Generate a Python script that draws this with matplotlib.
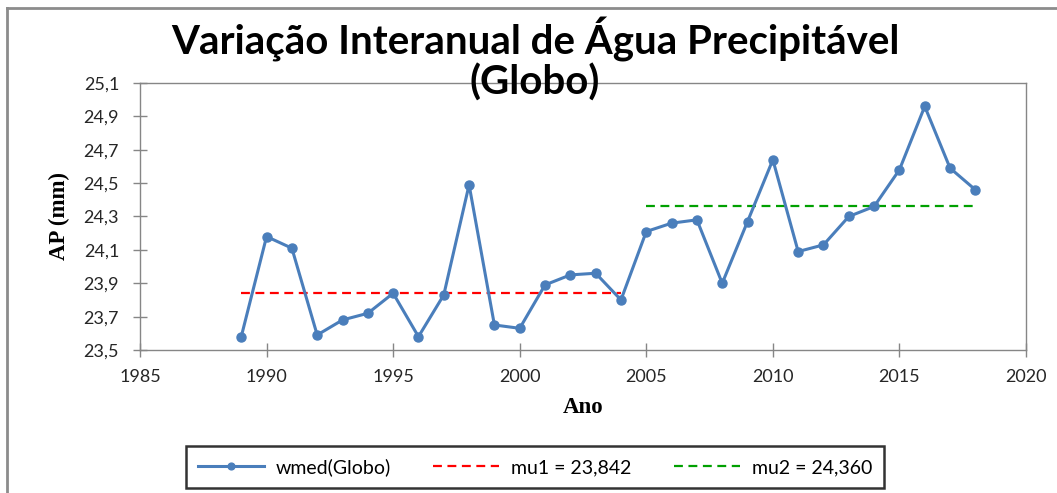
import matplotlib
matplotlib.use("Agg")
import matplotlib.pyplot as plt
from matplotlib.lines import Line2D
from matplotlib.ticker import FuncFormatter

# annual precipitable water, global mean (mm)
years = list(range(1989, 2019))
wmed = [23.58, 24.18, 24.11, 23.59, 23.68, 23.72, 23.84, 23.58, 23.83, 24.49,
        23.65, 23.63, 23.89, 23.95, 23.96, 23.80, 24.21, 24.26, 24.28, 23.90,
        24.27, 24.64, 24.09, 24.13, 24.30, 24.36, 24.58, 24.96, 24.59, 24.46]
mu1_years = [1989, 2004]
mu1 = 23.842
mu2_years = [2005, 2018]
mu2 = 24.360

x_ticks = [1985, 1990, 1995, 2000, 2005, 2010, 2015, 2020]
y_ticks = [23.5, 23.7, 23.9, 24.1, 24.3, 24.5, 24.7, 24.9, 25.1]

title_l1 = "Variação Interanual de Água Precipitável"
title_l2 = "(Globo)"
labels = ["wmed(Globo)", "mu1 = 23,842", "mu2 = 24,360"]

SANS = ["Lato", "DejaVu Sans"]
SERIF = ["Liberation Serif", "DejaVu Serif"]

fig = plt.figure(figsize=(10.57, 4.93), dpi=100)
ax = fig.add_axes([140 / 1057, 143 / 493, 886 / 1057, 267 / 493])

ax.plot(years, wmed, "-o", color="#4a7ebb", lw=2.2, ms=6.5, label=labels[0], zorder=3)
ax.plot(mu1_years, [mu1, mu1], "--", color="#ff0000", lw=1.6, dashes=(4, 2.5),
        label=labels[1], zorder=2)
ax.plot(mu2_years, [mu2, mu2], "--", color="#00a000", lw=1.6, dashes=(4, 2.5),
        label=labels[2], zorder=2)

ax.set_xlim(1985, 2020)
ax.set_ylim(23.5, 25.1)
ax.set_xticks(x_ticks)
ax.set_yticks(y_ticks)
ax.yaxis.set_major_formatter(FuncFormatter(lambda v, p: f"{v:.1f}".replace(".", ",")))

for s in ax.spines.values():
    s.set_color("#868686")
    s.set_linewidth(1.0)
ax.tick_params(direction="inout", length=10, width=1, color="#868686",
               labelsize=13, labelcolor="#262626")
ax.tick_params(axis="y", pad=10)
ax.tick_params(axis="x", pad=9)
for lab in ax.get_xticklabels() + ax.get_yticklabels():
    lab.set_family(SANS)

ax.set_xlabel("Ano", fontsize=16.5, fontweight="bold", family=SERIF, labelpad=8)
ax.set_ylabel("AP (mm)", fontsize=16.5, fontweight="bold", family=SERIF, labelpad=10)

fig.text(535 / 1057, 1 - 40 / 493, title_l1, ha="center", va="center",
         fontsize=29, fontweight="bold", family=SANS)
fig.text(535 / 1057, 1 - 83 / 493, title_l2, ha="center", va="center",
         fontsize=29, fontweight="bold", family=SANS)

leg = fig.legend(loc="center", bbox_to_anchor=(535 / 1057, 1 - 467 / 493), ncol=3,
                 frameon=True, fancybox=False, handlelength=3.4, handletextpad=0.6,
                 columnspacing=2.2, markerscale=0.75, borderpad=0.6,
                 prop={"family": SANS, "size": 14})
leg.get_frame().set_edgecolor("black")
leg.get_frame().set_linewidth(1.8)

# chart area frame (top and left edges visible)
fig.add_artist(Line2D([7 / 1057, 7 / 1057], [0, 1 - 8 / 493], transform=fig.transFigure,
                      color="#8c8c8c", lw=2))
fig.add_artist(Line2D([7 / 1057, 1], [1 - 8 / 493, 1 - 8 / 493], transform=fig.transFigure,
                      color="#8c8c8c", lw=2))

fig.savefig("out.png", dpi=100)
